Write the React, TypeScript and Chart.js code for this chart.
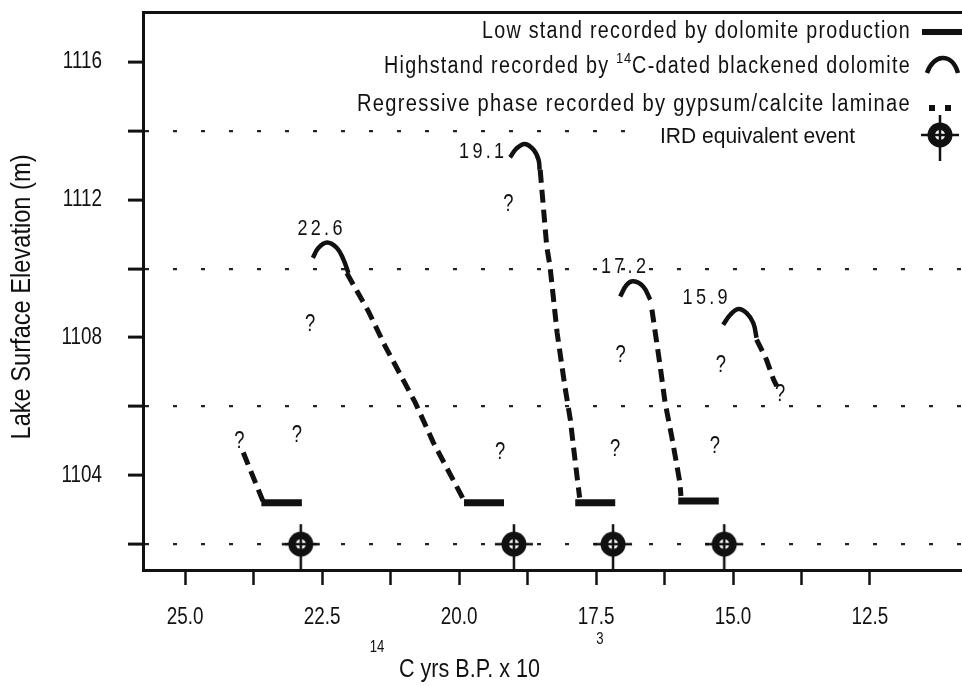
import React, { useEffect, useRef } from "react";
import { Chart, registerables } from "chart.js";
Chart.register(...registerables);

// ---------------- data ----------------
const X_MIN = 10.82; // right edge of the plot (ka, reversed axis)
const X_MAX = 25.77; // left edge
const Y_MIN = 1101.25;
const Y_MAX = 1117.45;

const xTickValues = [25, 23.75, 22.5, 21.25, 20, 18.75, 17.5, 16.25, 15, 13.75, 12.5];
const xTickLabels = ["25.0", "", "22.5", "", "20.0", "", "17.5", "", "15.0", "", "12.5"];
const yTickValues = [1102, 1104, 1106, 1108, 1110, 1112, 1114, 1116];
const yTickLabels = ["", "1104", "", "1108", "", "1112", "", "1116"];
const yDottedLevels = [1102, 1106, 1110, 1114];

// Lowstands (dolomite production)
const lowstandStart = [23.61, 19.91, 17.88, 16.0];
const lowstandEnd = [22.87, 19.18, 17.15, 15.26];
const lowstandElev = [1103.2, 1103.2, 1103.2, 1103.25];

// Highstands (14C-dated blackened dolomite) – arches
const arch226X = [22.67, 22.57, 22.41, 22.23, 22.11, 22.02];
const arch226Y = [1110.31, 1110.6, 1110.76, 1110.6, 1110.26, 1109.87];
const arch191X = [19.07, 18.95, 18.8, 18.64, 18.55, 18.53];
const arch191Y = [1113.23, 1113.49, 1113.62, 1113.45, 1113.16, 1112.87];
const arch172X = [17.06, 16.94, 16.82, 16.64, 16.51];
const arch172Y = [1109.19, 1109.53, 1109.63, 1109.48, 1109.1];
const arch159X = [15.18, 15.05, 14.9, 14.75, 14.63, 14.57];
const arch159Y = [1108.37, 1108.66, 1108.83, 1108.71, 1108.42, 1107.99];

// Regressive phases (gypsum / calcite laminae) – dashed
const regAX = [23.94, 23.58];
const regAY = [1104.66, 1103.25];
const reg226X = [22.05, 21.655, 21.35, 20.8, 20.47, 19.92];
const reg226Y = [1109.87, 1108.76, 1107.75, 1106.11, 1104.95, 1103.3];
const reg191X = [18.52, 18.4, 18.34, 18.21, 18.07, 17.97, 17.9, 17.8];
const reg191Y = [1112.87, 1110.64, 1110.06, 1108.13, 1106.59, 1105.62, 1104.66, 1103.35];
const reg172X = [16.48, 16.33, 16.24, 16.12, 15.97, 15.95];
const reg172Y = [1108.81, 1107.17, 1106.11, 1105.14, 1103.79, 1103.4];
const reg159X = [14.57, 14.39, 14.26, 14.2];
const reg159Y = [1107.94, 1107.36, 1106.78, 1106.59];

// Highstand age labels
const highstandLabels = ["22.6", "19.1", "17.2", "15.9"];
const highstandLabelX = [22.51, 19.56, 16.97, 15.48];
const highstandLabelY = [1111.16, 1113.4, 1110.06, 1109.15];

// Question marks
const questionX = [24.01, 22.96, 22.72, 19.1, 19.25, 17.05, 17.15, 15.22, 15.33, 14.14];
const questionY = [1104.99, 1105.14, 1108.37, 1111.85, 1104.66, 1107.46, 1104.75, 1107.17, 1104.82, 1106.35];

// IRD equivalent events
const irdX = [22.89, 19.0, 17.19, 15.16];
const irdY = [1102.0, 1102.0, 1102.0, 1102.0];

// Legend texts
const legendLow = "Low stand recorded by dolomite production";
const legendHighA = "Highstand recorded by ";
const legendHighSup = "14";
const legendHighB = "C-dated blackened dolomite";
const legendReg = "Regressive phase recorded by gypsum/calcite laminae";
const legendIRD = "IRD equivalent event";

const yTitle = "Lake Surface Elevation (m)";
const xTitleSup = "14";
const xTitleMain = "C yrs B.P. x 10";
const xTitleExp = "3";

// ---------------- helpers ----------------
const INK = "#111";
const FAMILY = "'Liberation Sans', Arial, Helvetica, sans-serif";

const pts = (xs: number[], ys: number[]) => xs.map((x, i) => ({ x, y: ys[i] }));

function drawText(
  ctx: CanvasRenderingContext2D,
  text: string,
  x: number,
  y: number,
  o: { size: number; align?: "left" | "right" | "center"; sx?: number; ls?: number; width?: number }
) {
  ctx.save();
  ctx.font = `${o.size}px ${FAMILY}`;
  (ctx as any).letterSpacing = `${o.ls || 0}px`;
  const w = ctx.measureText(text).width;
  const sx = o.width ? o.width / w : o.sx ?? 0.82;
  const dw = w * sx;
  const align = o.align || "center";
  const left = align === "left" ? x : align === "right" ? x - dw : x - dw / 2;
  ctx.translate(left, y);
  ctx.scale(sx, 1);
  ctx.textAlign = "left";
  ctx.textBaseline = "middle";
  ctx.fillStyle = INK;
  ctx.fillText(text, 0, 0);
  ctx.restore();
  return dw;
}

function measure(ctx: CanvasRenderingContext2D, text: string, size: number, ls: number) {
  ctx.save();
  ctx.font = `${size}px ${FAMILY}`;
  (ctx as any).letterSpacing = `${ls}px`;
  const w = ctx.measureText(text).width;
  ctx.restore();
  return w;
}

function makeIRDSymbol(): HTMLCanvasElement {
  const c = document.createElement("canvas");
  c.width = 44;
  c.height = 52;
  const g = c.getContext("2d")!;
  const cx = 22,
    cy = 26;
  g.strokeStyle = INK;
  g.lineWidth = 2.5;
  g.beginPath();
  g.moveTo(cx - 19, cy);
  g.lineTo(cx + 19, cy);
  g.moveTo(cx, cy - 20);
  g.lineTo(cx, cy + 26);
  g.stroke();
  g.fillStyle = INK;
  g.beginPath();
  g.arc(cx, cy, 12.5, 0, Math.PI * 2);
  g.fill();
  g.fillStyle = "#fff";
  g.beginPath();
  g.arc(cx, cy, 5, 0, Math.PI * 2);
  g.fill();
  g.strokeStyle = INK;
  g.lineWidth = 2.6;
  g.beginPath();
  g.moveTo(cx - 6, cy);
  g.lineTo(cx + 6, cy);
  g.moveTo(cx, cy - 6);
  g.lineTo(cx, cy + 6);
  g.stroke();
  return c;
}

export default function App() {
  const ref = useRef<HTMLCanvasElement | null>(null);

  useEffect(() => {
    if (!ref.current) return;
    const ird = makeIRDSymbol();

    const lowDatasets = lowstandStart.map((s, i) => ({
      data: [
        { x: s, y: lowstandElev[i] },
        { x: lowstandEnd[i], y: lowstandElev[i] },
      ],
      borderColor: INK,
      borderWidth: 7,
      borderCapStyle: "butt" as const,
      pointRadius: 0,
      order: 2,
    }));
    const archDatasets = [
      [arch226X, arch226Y],
      [arch191X, arch191Y],
      [arch172X, arch172Y],
      [arch159X, arch159Y],
    ].map(([xs, ys]) => ({
      data: pts(xs, ys),
      borderColor: INK,
      borderWidth: 4.5,
      tension: 0.4,
      pointRadius: 0,
      order: 1,
    }));
    const regDatasets = [
      [regAX, regAY],
      [reg226X, reg226Y],
      [reg191X, reg191Y],
      [reg172X, reg172Y],
      [reg159X, reg159Y],
    ].map(([xs, ys]) => ({
      data: pts(xs, ys),
      borderColor: INK,
      borderWidth: 5,
      borderDash: [13, 7],
      borderCapStyle: "butt" as const,
      tension: 0,
      pointRadius: 0,
      order: 3,
    }));
    const irdDataset = {
      data: pts(irdX, irdY),
      showLine: false,
      pointStyle: ird as any,
      pointRadius: 10,
      clip: false as any,
      order: 0,
    };

    const textPlugin = {
      id: "textPlugin",
      afterDraw(chart: any) {
        const ctx: CanvasRenderingContext2D = chart.ctx;
        const xs = chart.scales.x;
        const ys = chart.scales.y;
        const area = chart.chartArea;

        // highstand labels
        highstandLabels.forEach((t, i) => {
          drawText(ctx, t, xs.getPixelForValue(highstandLabelX[i]), ys.getPixelForValue(highstandLabelY[i]), {
            size: 22,
            ls: 4,
            sx: 0.82,
          });
        });
        // question marks
        questionX.forEach((qx, i) => {
          drawText(ctx, "?", xs.getPixelForValue(qx), ys.getPixelForValue(questionY[i]), { size: 23, sx: 0.8 });
        });

        // tick labels
        xTickValues.forEach((v, i) => {
          if (!xTickLabels[i]) return;
          drawText(ctx, xTickLabels[i], xs.getPixelForValue(v), area.bottom + 48, { size: 23, sx: 0.82 });
        });
        yTickValues.forEach((v, i) => {
          if (!yTickLabels[i]) return;
          drawText(ctx, yTickLabels[i], area.left - 41, ys.getPixelForValue(v), { size: 23, sx: 0.82, align: "right" });
        });

        // y title
        ctx.save();
        ctx.translate(22, (area.top + area.bottom) / 2 + 6);
        ctx.rotate(-Math.PI / 2);
        drawText(ctx, yTitle, 0, 0, { size: 28, width: 285 });
        ctx.restore();

        // x title
        drawText(ctx, xTitleSup, 377, 648, { size: 16, sx: 0.82 });
        drawText(ctx, xTitleMain, 399, 670, { size: 25, width: 141, align: "left" });
        drawText(ctx, xTitleExp, 600, 640, { size: 16, sx: 0.82 });

        // legend
        const rightText = 911;
        drawText(ctx, legendLow, rightText, 32, { size: 23, ls: 1.5, width: 429, align: "right" });
        {
          const a = measure(ctx, legendHighA, 23, 1.5);
          const s = measure(ctx, legendHighSup, 15, 1);
          const b = measure(ctx, legendHighB, 23, 1.5);
          const sx = 527 / (a + s + b);
          let x = rightText - 527;
          x += drawText(ctx, legendHighA, x, 67, { size: 23, ls: 1.5, sx, align: "left" });
          x += drawText(ctx, legendHighSup, x, 59, { size: 15, ls: 1, sx, align: "left" });
          drawText(ctx, legendHighB, x, 67, { size: 23, ls: 1.5, sx, align: "left" });
        }
        drawText(ctx, legendReg, rightText, 105, { size: 23, ls: 1.5, width: 554, align: "right" });
        ctx.save();
        ctx.fillStyle = "#fff";
        ctx.fillRect(640, 122, 322, 28);
        ctx.restore();
        drawText(ctx, legendIRD, 855, 137, { size: 22, width: 195, align: "right" });

        // legend symbols
        ctx.save();
        ctx.strokeStyle = INK;
        ctx.fillStyle = INK;
        ctx.lineWidth = 6;
        ctx.beginPath();
        ctx.moveTo(922, 32);
        ctx.lineTo(962, 32);
        ctx.stroke();
        ctx.lineWidth = 4.5;
        ctx.beginPath();
        ctx.moveTo(927, 73);
        ctx.bezierCurveTo(933, 54, 952, 52, 958, 73);
        ctx.stroke();
        ctx.fillRect(929, 105, 6, 6);
        ctx.fillRect(945, 105, 6, 6);
        ctx.drawImage(ird, 940 - 22, 135 - 26);
        ctx.restore();
      },
    };

    const chart = new Chart(ref.current, {
      type: "line",
      data: {
        datasets: [irdDataset, ...archDatasets, ...lowDatasets, ...regDatasets] as any,
      },
      options: {
        animation: false,
        responsive: false,
        layout: { autoPadding: false, padding: { top: 12, left: 0, right: 0, bottom: 0 } } as any,
        plugins: { legend: { display: false }, tooltip: { enabled: false } },
        elements: { line: { fill: false } },
        scales: {
          x: {
            type: "linear",
            position: "bottom",
            reverse: true,
            min: X_MIN,
            max: X_MAX,
            grid: { drawOnChartArea: false, drawTicks: true, tickLength: 15, tickWidth: 2.5, tickColor: INK },
            border: { display: true, width: 3, color: INK },
            ticks: { display: false },
            afterBuildTicks: (s: any) => {
              s.ticks = xTickValues.map((v) => ({ value: v }));
            },
            afterFit: (s: any) => {
              s.height = 116;
            },
          },
          x2: {
            type: "linear",
            position: "top",
            reverse: true,
            min: X_MIN,
            max: X_MAX,
            grid: { display: false },
            border: { display: true, width: 3, color: INK },
            ticks: { display: false },
            afterFit: (s: any) => {
              s.height = 0;
            },
          },
          y: {
            type: "linear",
            position: "left",
            min: Y_MIN,
            max: Y_MAX,
            grid: {
              drawOnChartArea: true,
              drawTicks: true,
              color: (c: any) =>
                c.tick && yDottedLevels.includes(c.tick.value) ? "#222" : "rgba(0,0,0,0)",
              lineWidth: 2.2,
              tickLength: 15,
              tickWidth: 3,
              tickColor: INK,
            },
            border: { display: true, width: 3, color: INK, dash: [4, 24] },
            ticks: { display: false },
            afterBuildTicks: (s: any) => {
              s.ticks = yTickValues.map((v) => ({ value: v }));
            },
            afterFit: (s: any) => {
              s.width = 143;
            },
          },
        } as any,
      },
      plugins: [textPlugin],
    });
    return () => chart.destroy();
  }, []);

  return (
    <div style={{ position: "absolute", left: 0, top: 0, width: 962, height: 686, overflow: "hidden", background: "#fff" }}>
      <canvas ref={ref} width={962} height={686} style={{ width: 962, height: 686, display: "block" }} />
    </div>
  );
}
